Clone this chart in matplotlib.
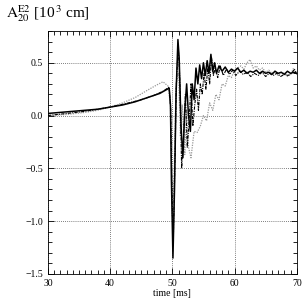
import matplotlib
matplotlib.use("Agg")
import matplotlib.pyplot as plt
from matplotlib.ticker import MultipleLocator, FuncFormatter

plt.rcParams['font.family'] = ['Liberation Serif', 'DejaVu Serif']
plt.rcParams['mathtext.fontset'] = 'stix'

# Series 1: solid black
t_a = [30, 32, 34, 36, 38, 40, 42, 44, 46, 48, 49.5, 49.7, 49.85, 50.1, 50.35, 50.6, 50.9, 51.1,
       51.4, 51.7, 52.0, 52.3, 52.6, 52.9, 53.2, 53.5, 53.8, 54.1, 54.4, 54.7, 55.0, 55.3, 55.6,
       55.9, 56.2, 56.5, 56.8, 57.1, 57.5, 58.0, 58.5, 59.0, 59.5, 60.0, 60.5, 61.0, 61.5, 62.0,
       62.5, 63.0, 63.5, 64.0, 64.5, 65.0, 65.5, 66.0, 66.5, 67.0, 67.5, 68.0, 68.5, 69.0, 69.5, 70.0]
v_a = [0.02, 0.03, 0.04, 0.05, 0.06, 0.08, 0.10, 0.13, 0.17, 0.21, 0.26, 0.10, -0.60, -1.35, -0.70,
       0.20, 0.72, 0.55, -0.10, -0.40, 0.05, 0.30, 0.00, -0.15, 0.30, 0.15, 0.45, 0.30, 0.48, 0.35,
       0.50, 0.38, 0.52, 0.40, 0.58, 0.42, 0.50, 0.40, 0.47, 0.42, 0.46, 0.41, 0.44, 0.42, 0.45,
       0.41, 0.43, 0.40, 0.42, 0.41, 0.43, 0.40, 0.42, 0.40, 0.41, 0.39, 0.42, 0.40, 0.41, 0.39,
       0.42, 0.40, 0.41, 0.40]

# Series 2: black dash-dot
t_b = [30, 33, 36, 40, 43, 45, 47, 48.5, 49.5, 49.75, 49.95, 50.15, 50.4, 50.65, 50.95, 51.2,
       51.5, 51.8, 52.1, 52.4, 52.7, 53.0, 53.3, 53.6, 53.9, 54.2, 54.5, 54.8, 55.1, 55.4, 55.7,
       56.0, 56.3, 56.6, 56.9, 57.3, 57.7, 58.2, 58.7, 59.2, 59.7, 60.2, 60.8, 61.4, 62.0, 62.6,
       63.2, 63.8, 64.4, 65.0, 65.6, 66.2, 66.8, 67.4, 68.0, 68.6, 69.2, 69.6, 70.0]
v_b = [0.00, 0.02, 0.04, 0.08, 0.12, 0.15, 0.19, 0.23, 0.27, 0.05, -0.70, -1.20, -0.50, 0.30,
       0.65, 0.35, -0.50, -0.20, 0.20, -0.30, -0.05, 0.30, -0.10, 0.10, 0.25, 0.05, 0.30, 0.20,
       0.40, 0.25, 0.45, 0.30, 0.55, 0.38, 0.45, 0.36, 0.47, 0.38, 0.44, 0.39, 0.43, 0.38, 0.42,
       0.39, 0.41, 0.37, 0.40, 0.38, 0.41, 0.37, 0.40, 0.38, 0.40, 0.37, 0.39, 0.38, 0.40, 0.44,
       0.39]

# Series 3: gray dotted
t_c = [30, 33, 36, 38, 40, 42, 44, 46, 47.5, 48.5, 49.3, 49.7, 50.0, 50.3, 50.6, 51.0, 51.3,
       51.6, 52.0, 52.3, 52.6, 53.0, 53.5, 54.0, 54.5, 55.0, 55.5, 56.0, 56.5, 57.0, 57.5, 58.0,
       58.5, 59.0, 59.5, 60.0, 60.5, 61.0, 61.5, 62.0, 62.5, 63.0, 63.5, 64.0, 64.5, 65.0, 65.5,
       66.0, 66.5, 67.0, 67.5, 68.0, 68.5, 69.0, 69.5, 70.0]
v_c = [0.00, 0.01, 0.03, 0.05, 0.08, 0.12, 0.17, 0.24, 0.29, 0.32, 0.28, 0.10, -0.95, -0.50,
       0.30, 0.40, -0.20, 0.10, -0.37, 0.05, -0.30, -0.40, -0.15, -0.16, -0.10, 0.00, -0.05,
       0.12, 0.05, 0.20, 0.15, 0.30, 0.28, 0.38, 0.36, 0.43, 0.45, 0.47, 0.44, 0.50, 0.53, 0.45,
       0.47, 0.43, 0.45, 0.41, 0.43, 0.40, 0.42, 0.38, 0.41, 0.40, 0.37, 0.39, 0.45, 0.40]

fig = plt.figure(figsize=(3.05, 3.05), dpi=100)
ax = fig.add_axes([0.157, 0.102, 0.816, 0.796])

ax.plot(t_c, v_c, color='#999999', lw=0.9, ls=(0, (1, 1)))
ax.plot(t_b, v_b, color='black', lw=0.8, ls=(0, (3, 1, 1, 1)))
ax.plot(t_a, v_a, color='black', lw=1.1, ls='-')

ax.set_xlim(30, 70)
ax.set_ylim(-1.5, 0.8)
ax.xaxis.set_major_locator(MultipleLocator(10))
ax.xaxis.set_minor_locator(MultipleLocator(1))
ax.yaxis.set_major_locator(MultipleLocator(0.5))
ax.yaxis.set_minor_locator(MultipleLocator(0.1))
ax.tick_params(which='both', direction='in', top=True, right=True, labelsize=7, width=0.6)
ax.tick_params(which='major', length=4)
ax.tick_params(which='minor', length=3)
ax.grid(True, which='major', color='#555555', ls=(0, (1, 1.5)), lw=0.6)
for s in ax.spines.values():
    s.set_linewidth(0.6)
ax.xaxis.set_major_formatter(FuncFormatter(lambda v, p: f"{v:.0f}"))
ax.yaxis.set_major_formatter(FuncFormatter(lambda v, p: f"{v:.1f}".replace('-', '\u2212')))
ax.set_xlabel('time [ms]', fontsize=7, labelpad=1)

fig.text(0.02, 0.955, r'$\mathrm{A}_{20}^{\mathrm{E2}}$ [10$^{\,3}$ cm]', fontsize=11, va='center', ha='left')

fig.savefig('out.png', dpi=100)
